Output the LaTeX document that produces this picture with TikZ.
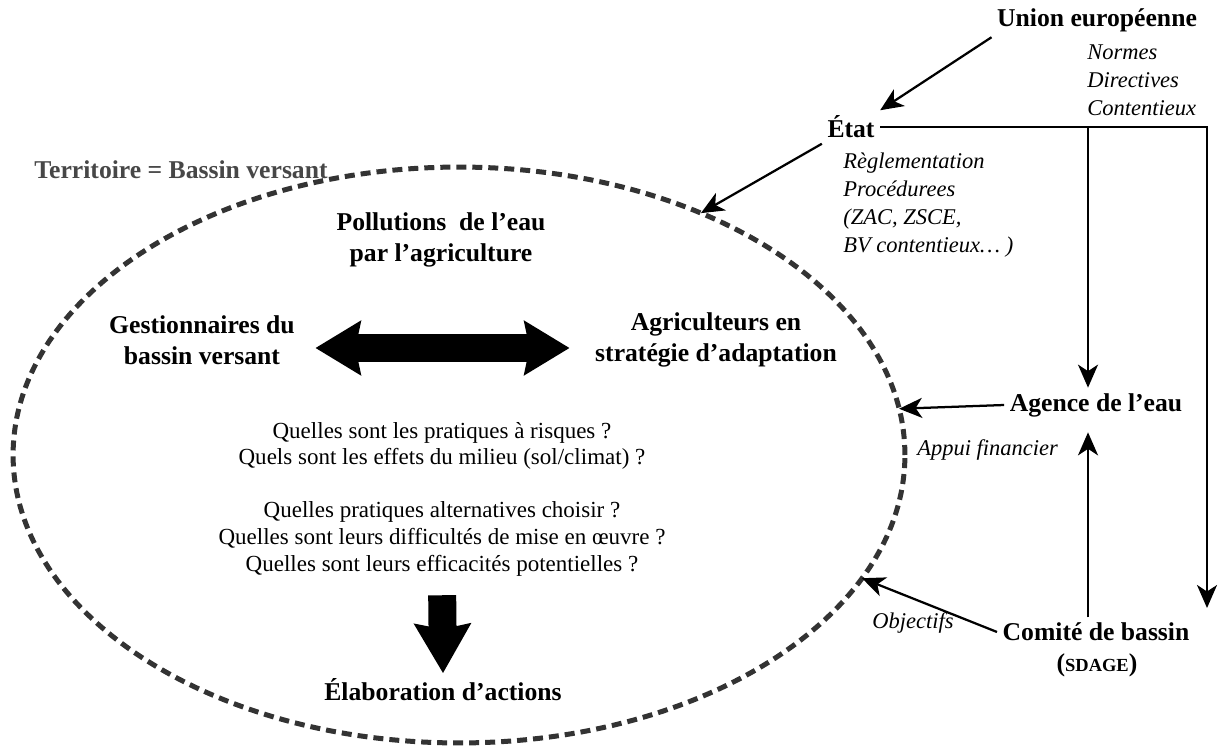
\documentclass[tikz,border=0pt]{standalone}
\usepackage{fontspec}
\setmainfont{Liberation Serif}
\usetikzlibrary{arrows.meta}
\usetikzlibrary{shapes.geometric}
\usetikzlibrary{calc}
\newcommand{\bfsz}{\fontsize{14.6}{17.5}\selectfont\bfseries}
\newcommand{\itsz}{\fontsize{12.8}{15.9}\selectfont\itshape}
\newcommand{\rmsz}{\fontsize{13.1}{15.2}\selectfont}
\colorlet{bvline}{black!80}
\colorlet{terrgray}{black!72}

\begin{document}
\begin{tikzpicture}[x=0.02cm,y=-0.02cm,
    actor/.style={font=\bfsz,align=center,inner sep=3pt},
    means/.style={font=\itsz,align=left,anchor=west,inner sep=0pt},
    quest/.style={font=\rmsz,align=center,inner sep=1pt},
    conn/.style={line width=0.045cm,
      -{Stealth[length=0.46cm,width=0.4cm,inset=0.13cm]}},
    fat/.style={line width=0.56cm,line join=miter}]
    \useasboundingbox (0,0) rectangle (1219,746);
    % Territory
    \node[draw=bvline,ellipse,line width=0.1cm,
      dash pattern=on 0.2cm off 0.12cm,
      minimum width=17.84cm,minimum height=11.52cm,
      inner sep=0pt,outer sep=0pt] (bv) at (459,455) {};
    \node[actor,text=terrgray] (terr) at (181,170) {Territoire = Bassin versant};
    \node[actor] (poll) at (441,240) {Pollutions~ de l'eau\\par l'agriculture};
    \node[actor] (gest) at (202,340) {Gestionnaires du\\bassin versant};
    \node[actor] (agri) at (716,340) {Agriculteurs en\\stratégie d'adaptation};
    \node[quest] (q1) at (442,446)
      {Quelles sont les pratiques à risques ?\\
       Quels sont les effets du milieu (sol/climat) ?};
    \node[quest] (q2) at (442,539)
      {Quelles pratiques alternatives choisir ?\\
       Quelles sont leurs difficultés de mise en œuvre ?\\
       Quelles sont leurs efficacités potentielles ?};
    \node[actor] (elab) at (443,690) {Élaboration d'actions};
    % Big arrows
    \draw[fat,{Stealth[length=0.9cm,width=1.06cm,inset=0.1cm]}-{Stealth[length=0.9cm,width=1.06cm,inset=0.1cm]},
      shorten <=0.3cm,shorten >=0.4cm]
      ([yshift=-0.16cm]gest.east) -- ([yshift=-0.16cm]agri.west);
    \draw[fat,-{Stealth[length=0.98cm,width=1.1cm,inset=0.1cm]},
      shorten <=0.34cm] (q2.south) -- (elab.north);
    % Institutions
    \node[actor] (ue) at (1097,20) {Union européenne};
    \node[means] (uemeans) at (1087,80) {Normes\\Directives\\Contentieux};
    \node[actor] (etat) at (851,127) {État};
    \node[means] (etatmeans) at (843,205)
      {Règlementation\\Procédurees\\(ZAC, ZSCE,\\BV contentieux\dots\ )};
    \node[actor] (agence) at (1096,405) {Agence de l'eau};
    \node[means] (appui) at (917,450) {Appui financier};
    \node[actor] (comite) at (1096,632) {Comité de bassin};
    \node[actor] (sdage) at (1097,665) {({\fontsize{10.5}{12}\selectfont SDAGE})};
    \node[means] (obj) at (872,623) {Objectifs};
    \coordinate (fork) at (1088,127);
    \coordinate (rtip) at (1207,608);
    % Links
    \draw[conn] (ue.south west) -- (etat.north east);
    \draw[conn] (etat.south west) -- (bv.45);
    \draw[conn] (etat.east) -| (rtip);
    \draw[conn] (fork) -- (fork |- agence.north);
    \draw[conn,shorten >=0.2cm] (fork |- comite.north) -- (fork |- agence.south);
    \draw[conn] (agence.west) -- (bv.6);
    \draw[conn] (comite.west) -- (bv.-17);
\end{tikzpicture}
\end{document}
